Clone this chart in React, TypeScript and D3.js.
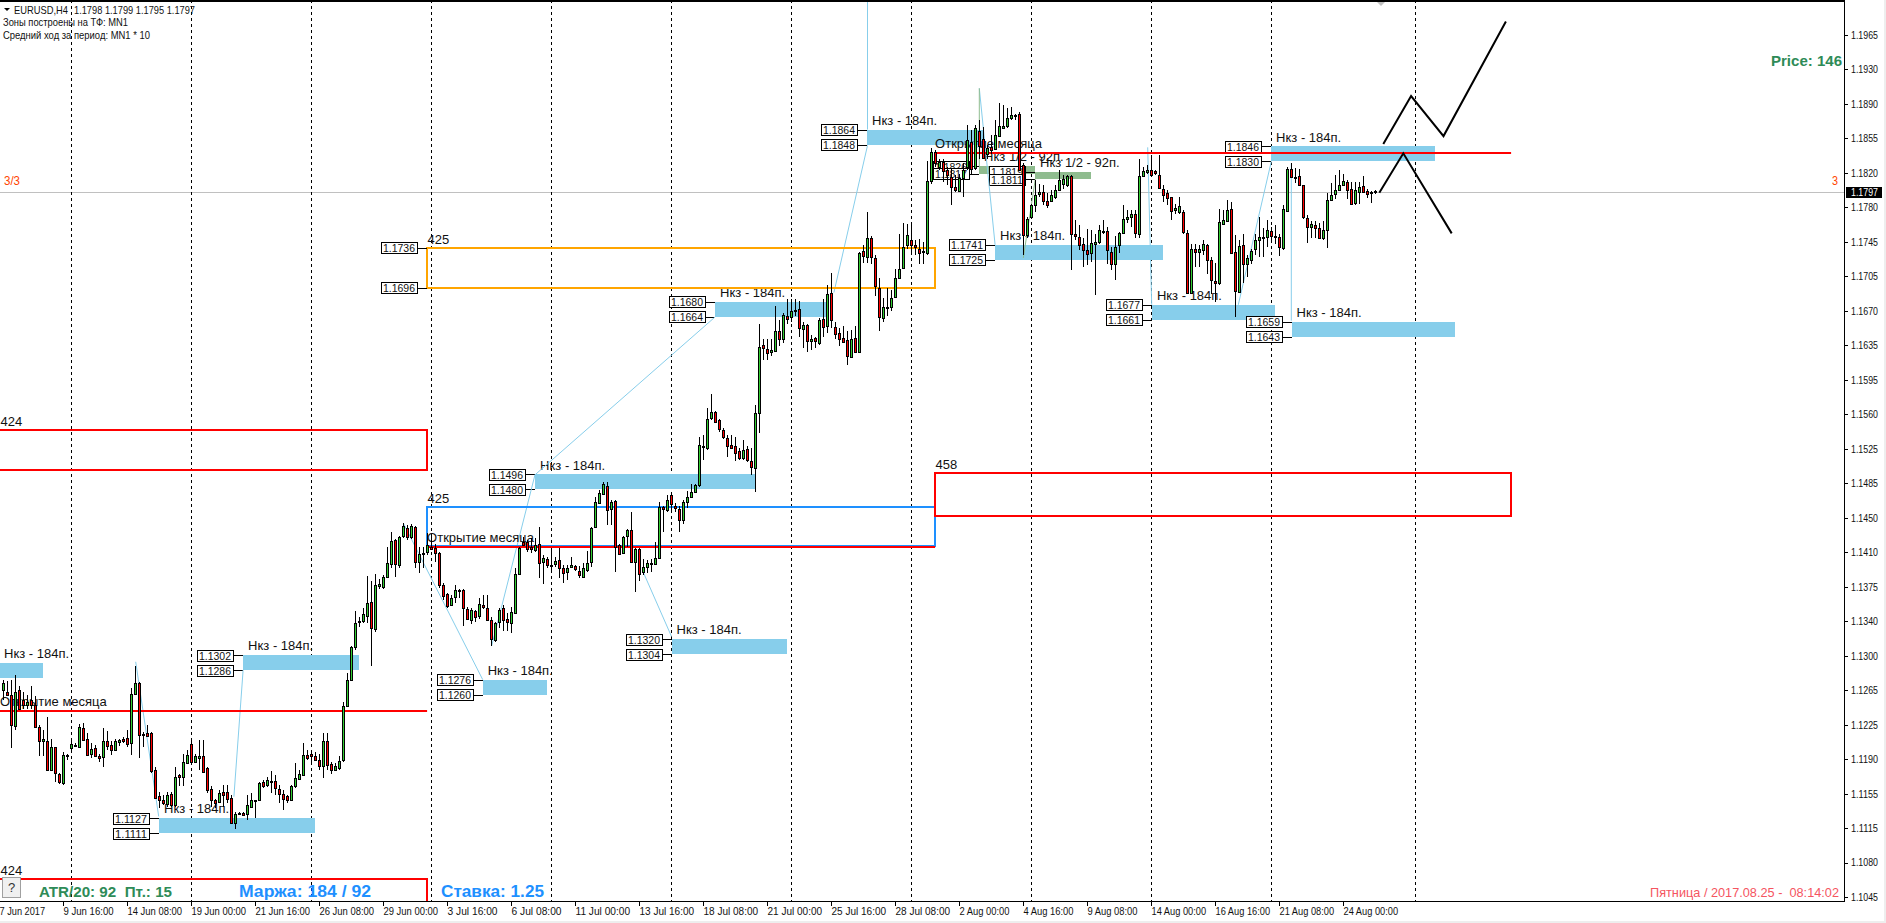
import React from "react";
import * as d3 from "d3";

// Prices in pips (1.1797 = 11797). Each bar: [open, high, low, close]. H4 bars, index 0 = 7 Jun 2017 04:00-ish.
const barsJune: number[][] = [
[11266,11277,11255,11273],[11264,11275,11259,11261],[11261,11277,11204,11229],[11228,11282,11223,11264],[11266,11270,11246,11246],[11255,11264,11246,11250],[11250,11261,11246,11253],[11255,11270,11246,11250],[11250,11259,11226,11226],[11226,11229,11195,11211],
[11211,11223,11195,11214],[11211,11237,11180,11181],[11181,11214,11179,11205],[11205,11205,11168,11177],[11176,11177,11166,11168],[11167,11200,11165,11197],[11195,11198,11191,11197],[11204,11213,11200,11208],[11206,11209,11205,11207],[11205,11230,11204,11226],
[11225,11231,11212,11213],[11214,11220,11196,11197],[11198,11209,11193,11203],[11204,11207,11194,11196],[11195,11198,11189,11193],[11194,11225,11184,11212],[11211,11222,11202,11206],[11207,11211,11197,11202],[11202,11214,11201,11211],[11210,11214,11206,11213],
[11214,11216,11209,11212],[11215,11223,11205,11208],[11209,11268,11197,11262],[11262,11291,11261,11273],[11273,11274,11193,11218],[11219,11221,11205,11218],[11220,11229,11216,11217],[11220,11221,11177,11179],[11180,11184,11151,11151],[11153,11157,11140,11149],
[11149,11154,11143,11145],[11144,11157,11141,11154],[11155,11157,11141,11143],[11143,11184,11141,11173],[11175,11176,11163,11173],[11173,11198,11163,11189],[11188,11202,11187,11197],[11208,11213,11189,11189],[11189,11198,11188,11195],[11193,11213,11181,11196],
[11196,11213,11177,11178],[11183,11184,11156,11159],[11160,11163,11141,11149],[11149,11150,11140,11145],[11146,11159,11145,11156],[11157,11165,11141,11154],[11157,11165,11145,11150],[11151,11154,11123,11124],[11124,11136,11118,11134],[11135,11136,11132,11134],
[11135,11136,11132,11133],[11134,11154,11127,11143],[11141,11156,11140,11148],[11147,11149,11129,11148],[11148,11168,11147,11167],[11168,11170,11161,11163],[11164,11173,11162,11170],[11168,11179,11156,11169],[11169,11175,11154,11161],[11160,11165,11145,11155],
[11155,11159,11138,11150],[11153,11154,11145,11149],[11149,11165,11147,11163],[11163,11188,11161,11172],[11171,11181,11170,11176],[11175,11209,11174,11197],[11197,11202,11191,11193],[11198,11200,11188,11196],[11196,11200,11190,11191],[11191,11198,11181,11185],
[11185,11220,11172,11212],[11212,11220,11181,11186],[11187,11189,11176,11181],[11181,11188,11180,11185],[11183,11195,11181,11190],[11191,11253,11189,11249],[11249,11284,11248,11277],[11277,11313,11276,11312],[11312,11350,11309,11337],[11338,11344,11333,11340],
[11340,11353,11337,11347],[11345,11388,11337,11359],[11360,11382,11291,11332],[11331,11390,11328,11378],[11377,11384,11374,11379],[11376,11389,11374,11386],[11387,11419,11385,11401],[11400,11434,11396,11425],[11426,11427,11387,11400],[11399,11430,11396,11429],
[11430,11444,11428,11441],[11439,11442,11426,11429],[11429,11443,11427,11441],[11440,11441,11396,11402],[11403,11419,11391,11411],[11412,11419,11396,11412],[11413,11433,11410,11421],
];
const barsJuly: number[][] = [
[11419,11430,11415,11416],[11417,11422,11403,11412],[11412,11413,11375,11378],[11378,11380,11362,11366],[11368,11369,11353,11356],[11357,11367,11356,11364],[11365,11378,11359,11373],[11372,11374,11364,11373],[11373,11374,11334,11353],[11352,11355,11341,11342],
[11341,11353,11336,11351],[11350,11351,11339,11344],[11345,11364,11342,11358],[11357,11367,11352,11354],[11353,11367,11340,11341],[11341,11344,11313,11320],[11319,11338,11317,11337],[11339,11353,11332,11351],[11353,11357,11329,11341],[11342,11348,11329,11338],
[11337,11355,11327,11349],[11348,11396,11347,11390],[11390,11419,11389,11417],[11424,11429,11420,11421],[11424,11426,11413,11416],[11418,11428,11412,11416],[11415,11428,11413,11421],[11422,11440,11385,11401],[11402,11410,11379,11407],[11406,11408,11396,11399],
[11399,11417,11394,11398],[11400,11408,11397,11404],[11405,11417,11385,11396],[11396,11399,11380,11391],[11392,11399,11383,11396],[11397,11408,11396,11399],[11398,11399,11393,11395],[11393,11398,11385,11389],[11387,11401,11385,11396],[11394,11414,11392,11401],
[11402,11440,11397,11439],[11440,11472,11439,11466],[11465,11479,11464,11476],[11475,11488,11474,11486],[11484,11488,11442,11458],[11459,11469,11442,11466],[11468,11469,11392,11419],[11421,11422,11410,11411],[11412,11430,11411,11429],[11430,11438,11419,11437],
[11437,11456,11402,11403],[11402,11417,11370,11416],[11416,11417,11382,11390],[11392,11406,11389,11397],[11397,11405,11391,11401],[11400,11406,11392,11401],[11400,11424,11399,11407],[11407,11467,11406,11461],[11461,11462,11435,11459],[11458,11474,11456,11469],
[11474,11475,11458,11464],[11462,11465,11456,11460],[11459,11462,11434,11447],[11447,11469,11443,11467],[11466,11478,11460,11472],[11472,11486,11471,11477],[11477,11486,11476,11485],[11485,11536,11483,11527],[11525,11538,11511,11526],[11524,11567,11522,11555],
[11556,11582,11554,11563],[11563,11564,11551,11552],[11554,11555,11541,11544],[11543,11545,11534,11536],[11535,11538,11515,11526],[11527,11538,11524,11524],[11526,11536,11510,11519],[11521,11524,11511,11514],[11513,11533,11511,11522],[11523,11526,11509,11511],
[11510,11524,11495,11504],[11503,11570,11477,11561],[11562,11657,11540,11632],[11634,11640,11618,11631],[11630,11640,11618,11626],[11627,11640,11622,11629],[11628,11676,11627,11649],[11649,11661,11633,11640],[11640,11668,11636,11666],[11665,11683,11656,11662],
[11664,11683,11659,11670],[11670,11683,11665,11671],[11672,11681,11643,11652],[11651,11659,11631,11655],[11655,11656,11627,11638],[11638,11645,11629,11640],[11642,11643,11631,11638],[11636,11663,11634,11661],[11662,11683,11643,11653],[11654,11698,11647,11689],
[11690,11711,11652,11661],[11653,11659,11640,11646],[11647,11652,11633,11640],[11642,11654,11636,11637],[11639,11649,11613,11622],[11621,11650,11620,11640],[11642,11654,11626,11627],[11627,11733,11626,11732],[11734,11741,11722,11729],[11728,11776,11722,11748],
[11748,11750,11720,11728],[11727,11730,11686,11697],[11695,11706,11649,11664],[11663,11684,11659,11675],[11674,11695,11665,11675],[11675,11693,11670,11684],[11685,11715,11684,11706],[11706,11753,11704,11715],[11716,11764,11715,11739],[11741,11763,11737,11751],
[11746,11764,11730,11741],[11741,11746,11730,11739],[11736,11747,11721,11732],[11734,11744,11721,11733],[11732,11830,11730,11809],[11809,11844,11806,11840],
];
const barsAugust: number[][] = [
[11840,11842,11824,11828],[11824,11833,11821,11829],[11829,11833,11808,11820],[11821,11824,11805,11816],[11813,11823,11783,11803],[11803,11815,11797,11799],[11798,11817,11797,11812],[11812,11828,11792,11821],[11824,11869,11821,11853],[11851,11863,11817,11822],
[11823,11869,11821,11866],[11862,11874,11833,11846],[11854,11867,11833,11834],[11838,11847,11833,11844],[11845,11858,11838,11842],[11843,11874,11842,11858],[11857,11892,11856,11868],[11866,11890,11865,11868],[11868,11887,11866,11876],[11876,11888,11874,11879],
[11878,11881,11874,11879],[11881,11883,11820,11821],[11826,11828,11730,11751],[11751,11771,11748,11769],[11771,11785,11770,11784],[11784,11810,11776,11794],[11795,11806,11792,11797],[11797,11805,11783,11788],[11788,11796,11780,11784],[11788,11799,11787,11794],
[11792,11805,11790,11800],[11800,11821,11799,11810],[11806,11815,11801,11811],[11805,11815,11803,11814],[11814,11815,11714,11753],[11752,11767,11746,11750],[11749,11762,11735,11741],[11742,11748,11717,11735],[11735,11758,11719,11731],[11732,11757,11723,11743],
[11742,11753,11687,11744],[11744,11762,11742,11757],[11755,11767,11753,11756],[11756,11760,11721,11735],[11733,11739,11714,11721],[11721,11750,11703,11739],[11741,11755,11732,11754],[11754,11783,11753,11769],[11769,11778,11764,11771],[11771,11778,11760,11774],
[11774,11778,11748,11754],[11753,11833,11748,11814],[11814,11824,11813,11820],[11819,11826,11817,11821],[11821,11837,11815,11816],[11820,11821,11815,11818],[11816,11837,11801,11802],[11801,11805,11787,11794],[11796,11799,11783,11791],[11792,11792,11767,11777],
[11778,11785,11774,11780],[11776,11792,11774,11782],[11776,11778,11753,11755],[11754,11757,11689,11690],[11690,11742,11689,11736],[11736,11742,11717,11733],[11733,11741,11717,11736],[11735,11746,11730,11742],[11741,11742,11710,11725],[11725,11728,11689,11703],
[11702,11722,11680,11700],[11700,11779,11698,11765],[11763,11778,11762,11767],[11766,11789,11765,11778],[11779,11787,11731,11732],[11733,11751,11664,11692],[11691,11746,11690,11740],[11741,11753,11700,11721],[11720,11730,11707,11727],[11725,11737,11721,11734],
[11736,11753,11730,11746],[11746,11771,11728,11749],[11748,11759,11728,11749],[11749,11767,11739,11757],[11756,11760,11744,11750],[11750,11762,11742,11750],[11749,11753,11729,11739],[11738,11783,11735,11779],[11777,11824,11776,11822],[11822,11828,11812,11813],
[11813,11823,11807,11812],[11814,11822,11804,11805],[11805,11805,11769,11771],[11770,11773,11743,11760],[11760,11766,11748,11763],[11762,11766,11748,11759],[11759,11764,11747,11748],[11748,11766,11746,11757],[11757,11796,11738,11789],[11789,11807,11788,11794],
[11795,11815,11790,11799],[11800,11821,11799,11805],[11805,11817,11804,11809],[11808,11810,11790,11800],[11801,11808,11783,11785],[11786,11808,11783,11799],[11797,11808,11785,11803],[11804,11814,11796,11797],[11798,11801,11791,11795],[11796,11798,11786,11797],[11798,11799,11795,11797],
];

const priceTicks = ["1.1965","1.1930","1.1890","1.1855","1.1820","1.1780","1.1745","1.1705","1.1670","1.1635","1.1595","1.1560","1.1525","1.1485","1.1450","1.1410","1.1375","1.1340","1.1300","1.1265","1.1225","1.1190","1.1155","1.1115","1.1080","1.1045"];
const dateTicks = ["7 Jun 2017","9 Jun 16:00","14 Jun 08:00","19 Jun 00:00","21 Jun 16:00","26 Jun 08:00","29 Jun 00:00","3 Jul 16:00","6 Jul 08:00","11 Jul 00:00","13 Jul 16:00","18 Jul 08:00","21 Jul 00:00","25 Jul 16:00","28 Jul 08:00","2 Aug 00:00","4 Aug 16:00","9 Aug 08:00","14 Aug 00:00","16 Aug 16:00","21 Aug 08:00","24 Aug 00:00"];
const separatorBars = [17,47,77,107,137,167,197,227,257,287,317,353];

// [from bar, to bar, top price, bottom price, top tag, bottom tag]
const blueZones: [number,number,number,number,string,string][] = [
[-5,9.9,11294.4,11279,"",""],
[59.9,88.8,11303,11287,"1.1302","1.1286"],
[38.9,77.8,11129,11113,"1.1127","1.1111"],
[119.8,135.8,11277,11261,"1.1276","1.1260"],
[132.9,187.9,11496,11480,"1.1496","1.1480"],
[167,195.9,11320,11304,"1.1320","1.1304"],
[177.9,205.9,11680,11664,"1.1680","1.1664"],
[215.9,244.9,11864,11848,"1.1864","1.1848"],
[247.9,289.9,11741,11725,"1.1741","1.1725"],
[287.1,317.9,11677,11661,"1.1677","1.1661"],
[316.9,357.9,11846,11830,"1.1846","1.1830"],
[322,362.9,11659,11643,"1.1659","1.1643"],
];
const greenZones: [number,number,number,number,string,string][] = [
[243.9,257.9,11825,11817,"1.1826","1.1817"],
[257.9,271.8,11819,11811,"1.1819","1.1811"],
];
// [from bar, to bar, top price, bottom price, colour, caption, top tag, bottom tag]
const frames: [number,number,number,number,string,string,string,string][] = [
[-5,105.9,11543,11501,"#ff0000","424","",""],
[-5,105.9,11064,11020,"#ff0000","424","",""],
[105.9,232.9,11738,11695,"#ffa500","425","1.1736","1.1696"],
[105.9,232.9,11461.5,11419.6,"#1e90ff","425","",""],
[232.9,376.9,11498,11452,"#ff0000","458","",""],
];
// [from bar, to bar, price]
const monthOpens: [number,number,number][] = [[-5,105.9,11243.5],[105.9,232.9,11418.5],[232.9,376.9,11839.3]];
// [bar1, price1, bar2, price2]
const blueLinks = [
[33.05,11296,38.8,11131],[57.6,11152,59.9,11287],[99.95,11444,119.8,11277],[122.05,11313,132.9,11496],
[133,11496,177.9,11664],[159.9,11392,167,11323],[207.6,11690,216,11847],[216,12002,216,11864],
[243.95,11908,247.9,11741],[286.05,11845,287.05,11677],[308.7,11677,316.95,11830],[321.95,11828,321.95,11660],
];
const greenLinks = [[243.95,11908,243.95,11825],[254.95,11727,257.95,11811]];
const forecastA = [[343.95,11796.6],[349.95,11838.6],[362.05,11753.2]];
const forecastB = [[344.95,11848.5],[351.9,11899.8],[360,11857],[375.6,11979.2]];

const W = 1886, H = 923, AX = 1844, AY = 901;
const FONT = '"Liberation Sans", Arial, sans-serif';
const UI = "#111";

const bars = [...barsJune, ...barsJuly, ...barsAugust];
const x = d3.scaleLinear().domain([0, 343]).range([3.5, 1375.5]);
const y = d3.scaleLinear().domain([11045, 11965]).range([897, 34.9]);
const tickY = d3.scalePoint<string>().domain(priceTicks).range([35, 897]);
const dateX = (i: number) => x(-1 + 16 * i) - 0.5;
const link = d3.line<number[]>().x((d) => x(d[0])).y((d) => y(d[1]));
const px = (v: number) => Math.round(v);

function T({ x: tx, cy, children, size = 13, fill = UI, bold = false, len, anchor }: any) {
  return (
    <text x={tx} y={cy + size * 0.36} fontSize={size} fill={fill} fontWeight={bold ? "bold" : "normal"} fontFamily={FONT}
      textLength={len} lengthAdjust={len ? "spacingAndGlyphs" : undefined} textAnchor={anchor}>
      {children}
    </text>
  );
}

function Tag({ right, py, children }: any) {
  const cy = y(py);
  const by = px(cy - 5.5) + 0.5;
  return (
    <g>
      <line x1={right} x2={right + 10} y1={px(cy) + 0.5} y2={px(cy) + 0.5} stroke="#000" />
      <rect x={px(right - 36) + 0.5} y={by} width={36} height={11} fill="#fff" stroke="#000" />
      <T x={right - 34} cy={by + 5.7} size={11} len={32} fill="#111">{children}</T>
    </g>
  );
}

function Zone({ z, color, caption }: any) {
  const [a, b, top, bottom, t1, t2] = z;
  const l = x(a), r = x(b), yt = y(top), yb = y(bottom);
  return (
    <g>
      <rect x={px(l)} y={px(yt)} width={px(r) - px(l)} height={px(yb) - px(yt)} fill={color} />
      <T x={Math.max(l, -1) + 5} cy={yt - 9.5}>{caption}</T>
      {t1 ? <Tag right={px(l) - 10} py={top}>{t1}</Tag> : null}
      {t2 ? <Tag right={px(l) - 10} py={bottom}>{t2}</Tag> : null}
    </g>
  );
}

export default function App() {
  return (
    <svg width={W} height={H} style={{ position: "fixed", left: 0, top: 0, display: "block", background: "#fff" }}>
      <defs>
        <clipPath id="plot"><rect x={0} y={0} width={AX} height={AY} /></clipPath>
      </defs>
      <g clipPath="url(#plot)">
        {/* current price line */}
        <line x1={0} x2={AX} y1={192.5} y2={192.5} stroke="#c0c0c0" />
        {/* period separators */}
        {separatorBars.map((k) => (
          <line key={k} x1={x(k)} x2={x(k)} y1={0} y2={AY} stroke="#000" strokeDasharray="3 3" />
        ))}
        {blueZones.map((z, i) => <Zone key={i} z={z} color="#87ceeb" caption="Нкз - 184п." />)}
        {greenZones.map((z, i) => <Zone key={i} z={z} color="#8fbc8f" caption="Нкз 1/2 - 92п." />)}
        {blueLinks.map((l, i) => (
          <path key={i} d={link([[l[0], l[1]], [l[2], l[3]]]) as string} stroke="#87ceeb" fill="none" />
        ))}
        {greenLinks.map((l, i) => (
          <path key={i} d={link([[l[0], l[1]], [l[2], l[3]]]) as string} stroke="#8fbc8f" fill="none" />
        ))}
        {frames.map((f, i) => {
          const l = px(x(f[0])), r = px(x(f[1])), t = px(y(f[2])), b = px(y(f[3]));
          return (
            <g key={i}>
              <rect x={l} y={t} width={r - l} height={b - t} fill="none" stroke={f[4]} strokeWidth={2} />
              <T x={Math.max(l, 0) + 0.5} cy={t - 9}>{f[5]}</T>
              {f[6] ? <Tag right={l - 10} py={f[2]}>{f[6]}</Tag> : null}
              {f[7] ? <Tag right={l - 10} py={f[3]}>{f[7]}</Tag> : null}
            </g>
          );
        })}
        {monthOpens.map((m, i) => (
          <g key={i}>
            <line x1={x(m[0])} x2={x(m[1])} y1={px(y(m[2]))} y2={px(y(m[2]))} stroke="#ff0000" strokeWidth={2} />
            <T x={Math.max(x(m[0]), 0)} cy={y(m[2]) - 9.5}>Открытие месяца</T>
          </g>
        ))}
        {/* candles */}
        {bars.map((b, k) => {
          const [o, h, l, c] = b;
          const cx = x(k);
          const top = px(y(Math.max(o, c)));
          const bot = px(y(Math.min(o, c)));
          return (
            <g key={k} shapeRendering="crispEdges">
              <line x1={cx} x2={cx} y1={px(y(h))} y2={px(y(l))} stroke="#000" />
              <rect x={cx - 1} y={top + 0.5} width={2} height={Math.max(bot - top, 1)} fill={c >= o ? "#32cd32" : "#ff0000"} stroke="#000" />
            </g>
          );
        })}
        {/* forecast */}
        {[forecastA, forecastB].map((f, i) => (
          <path key={i} d={link(f) as string} fill="none" stroke="#000" strokeWidth={2} />
        ))}
        <path d="M1377 2 L1385 2 L1381 6 Z" fill="#c0c0c0" />
      </g>

      {/* frame and axes */}
      <line x1={0} x2={AX + 1} y1={1} y2={1} stroke="#000" strokeWidth={2} />
      <line x1={AX + 0.5} x2={AX + 0.5} y1={0} y2={AY + 1} stroke="#000" />
      <line x1={0} x2={AX + 1} y1={AY + 0.5} y2={AY + 0.5} stroke="#000" />
      <rect x={0} y={921} width={W} height={2} fill="#eeeeee" />
      <rect x={1884} y={0} width={2} height={H} fill="#eeeeee" />
      {priceTicks.map((t) => {
        const ty = tickY(t) as number;
        return (
          <g key={t}>
            <line x1={AX} x2={AX + 4} y1={px(ty) + 0.5} y2={px(ty) + 0.5} stroke="#000" />
            <T x={1851} cy={ty} size={11} len={27}>{t}</T>
          </g>
        );
      })}
      <rect x={1846} y={187} width={36} height={11} fill="#000" />
      <T x={1851} cy={192.5} size={11} len={27} fill="#fff">1.1797</T>
      {dateTicks.map((t, i) => (
        <g key={t}>
          <line x1={dateX(i) + 0.5} x2={dateX(i) + 0.5} y1={AY} y2={AY + 5} stroke="#000" />
          <T x={dateX(i) + 0.5} cy={911} size={11} len={t.length * 4.55}>{t}</T>
        </g>
      ))}

      {/* header */}
      <path d="M4 8 L10 8 L7 11 Z" fill="#000" />
      <T x={14} cy={9.7} size={11} len={54}>EURUSD,H4</T>
      <T x={74} cy={9.7} size={11} len={121}>1.1798 1.1799 1.1795 1.1797</T>
      <T x={3} cy={22.3} size={10.5} len={125}>Зоны построены на ТФ: MN1</T>
      <T x={3} cy={35} size={10.5} len={147}>Средний ход за период: MN1 * 10</T>
      <T x={4} cy={180.7} size={12} fill="#ff4500" len={16}>3/3</T>
      <T x={1832} cy={180.7} size={12} fill="#ff4500" len={6}>3</T>

      {/* on-chart labels */}
      <T x={1771} cy={61} size={15} bold fill="#2e8b57" len={71}>Price: 146</T>
      <rect x={2.5} y={877.5} width={18} height={20} fill="#f0f0f0" stroke="#a0a0a0" />
      <T x={8} cy={887} size={13} fill="#333">?</T>
      <T x={39} cy={892} size={15} bold fill="#2e8b57" len={133}>{"ATR/20: 92\u00a0\u00a0Пт.: 15"}</T>
      <T x={239} cy={890.7} size={17} bold fill="#1e90ff" len={132}>Маржа: 184 / 92</T>
      <T x={441} cy={890.7} size={17} bold fill="#1e90ff" len={103}>Ставка: 1.25</T>
      <T x={1650} cy={892} size={13} fill="#f5555f" len={189}>{"Пятница / 2017.08.25 -\u00a0\u00a008:14:02"}</T>
    </svg>
  );
}
